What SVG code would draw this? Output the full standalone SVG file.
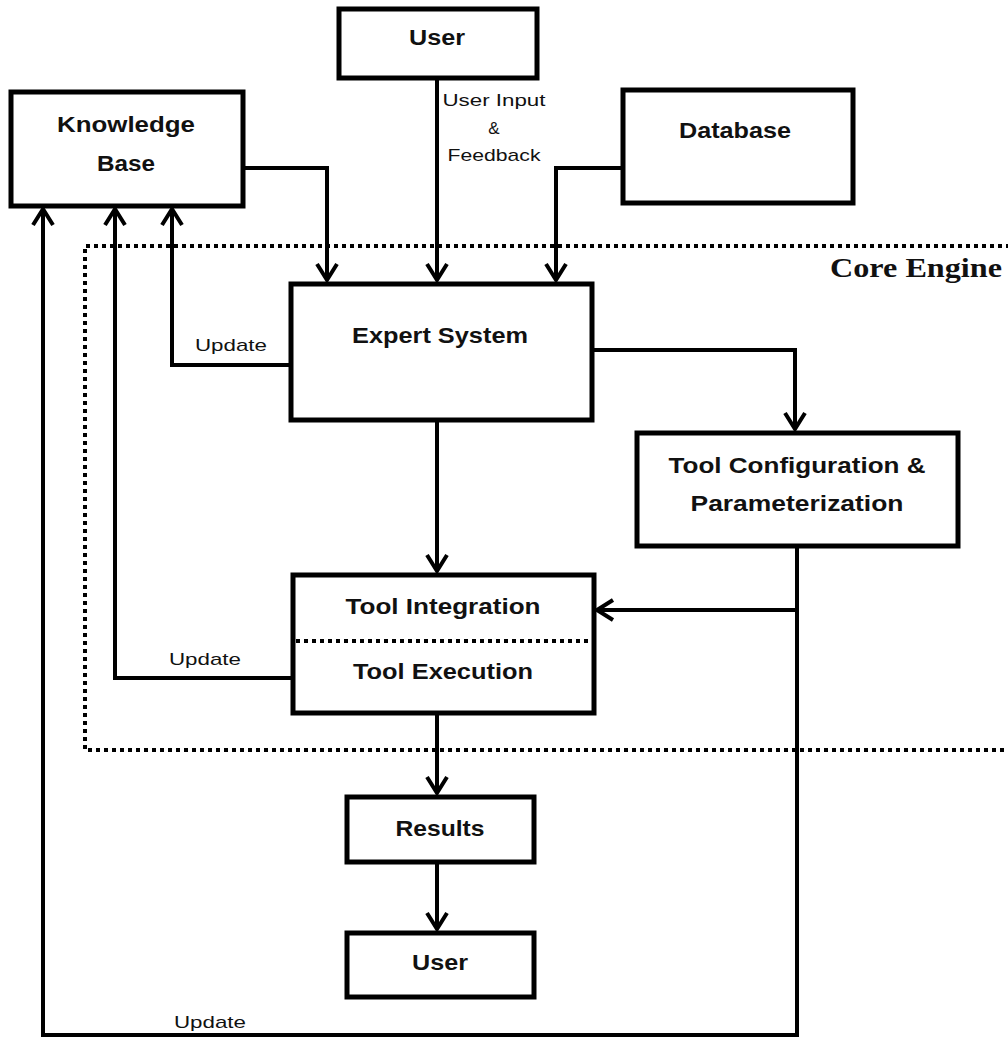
<svg xmlns="http://www.w3.org/2000/svg" width="1008" height="1040" viewBox="0 0 1008 1040">
<defs>
<style>
.box{fill:#fff;stroke:#000;stroke-width:5}
.t{font-family:"Liberation Sans",Arial,sans-serif;font-weight:bold;font-size:22px;fill:#111;text-anchor:middle}
.l{font-family:"Liberation Sans",Arial,sans-serif;font-size:17px;fill:#111;text-anchor:middle}
.c{fill:none;stroke:#000;stroke-width:4}
.dot{fill:none;stroke:#000;stroke-width:4;stroke-dasharray:4 4}
</style>
<marker id="arr" viewBox="-20 -13 24 26" refX="0" refY="0" markerWidth="24" markerHeight="26" markerUnits="userSpaceOnUse" orient="auto">
<path d="M-16,-10 L0,0 L-16,10" fill="none" stroke="#000" stroke-width="4"/>
</marker>
</defs>
<rect width="1008" height="1040" fill="#fff"/>

<g id="core-engine">
<path class="dot" d="M1010,246 H85 V750 H1010"/>
<text x="916" y="277" font-family="'Liberation Serif',serif" font-weight="bold" font-size="27" fill="#111" text-anchor="middle" textLength="172" lengthAdjust="spacingAndGlyphs">Core Engine</text>
</g>

<g id="connectors">
<path class="c" d="M243,168 H327 V280" marker-end="url(#arr)"/>
<path class="c" d="M437,78 V280" marker-end="url(#arr)"/>
<path class="c" d="M622,168 H556 V280" marker-end="url(#arr)"/>
<path class="c" d="M290,365 H172 V209" marker-end="url(#arr)"/>
<path class="c" d="M592,350 H795 V429" marker-end="url(#arr)"/>
<path class="c" d="M437,420 V571" marker-end="url(#arr)"/>
<path class="c" d="M797,546 V1035 H43 V209" marker-end="url(#arr)"/>
<path class="c" d="M797,610 H597" marker-end="url(#arr)"/>
<path class="c" d="M292,678 H115 V209" marker-end="url(#arr)"/>
<path class="c" d="M437,713 V793" marker-end="url(#arr)"/>
<path class="c" d="M437,862 V929" marker-end="url(#arr)"/>
<text class="l" x="494" y="106" textLength="103" lengthAdjust="spacingAndGlyphs">User Input</text>
<text class="l" x="494" y="134">&amp;</text>
<text class="l" x="494" y="161" textLength="93" lengthAdjust="spacingAndGlyphs">Feedback</text>
<text class="l" x="231" y="351" textLength="72" lengthAdjust="spacingAndGlyphs">Update</text>
<text class="l" x="205" y="665" textLength="72" lengthAdjust="spacingAndGlyphs">Update</text>
<text class="l" x="210" y="1028" textLength="72" lengthAdjust="spacingAndGlyphs">Update</text>
</g>

<g id="user-top">
<rect class="box" x="339" y="9" width="198" height="69"/>
<text class="t" x="437" y="45" textLength="56" lengthAdjust="spacingAndGlyphs">User</text>
</g>

<g id="knowledge-base">
<rect class="box" x="11" y="92" width="232" height="114"/>
<text class="t" x="126" y="132" textLength="138" lengthAdjust="spacingAndGlyphs">Knowledge</text>
<text class="t" x="126" y="171" textLength="58" lengthAdjust="spacingAndGlyphs">Base</text>
</g>

<g id="database">
<rect class="box" x="623" y="90" width="230" height="113"/>
<text class="t" x="735" y="138" textLength="112" lengthAdjust="spacingAndGlyphs">Database</text>
</g>

<g id="expert-system">
<rect class="box" x="291" y="284" width="301" height="136"/>
<text class="t" x="440" y="343" textLength="176" lengthAdjust="spacingAndGlyphs">Expert System</text>
</g>

<g id="tool-config">
<rect class="box" x="637" y="433" width="321" height="113"/>
<text class="t" x="797" y="473" textLength="257" lengthAdjust="spacingAndGlyphs">Tool Configuration &amp;</text>
<text class="t" x="797" y="511" textLength="213" lengthAdjust="spacingAndGlyphs">Parameterization</text>
</g>

<g id="tool-integration">
<rect class="box" x="293" y="575" width="301" height="138"/>
<path class="dot" d="M296,641 H592"/>
<text class="t" x="443" y="614" textLength="195" lengthAdjust="spacingAndGlyphs">Tool Integration</text>
<text class="t" x="443" y="679" textLength="180" lengthAdjust="spacingAndGlyphs">Tool Execution</text>
</g>

<g id="results">
<rect class="box" x="347" y="797" width="187" height="65"/>
<text class="t" x="440" y="836" textLength="89" lengthAdjust="spacingAndGlyphs">Results</text>
</g>

<g id="user-bottom">
<rect class="box" x="347" y="933" width="187" height="64"/>
<text class="t" x="440" y="970" textLength="56" lengthAdjust="spacingAndGlyphs">User</text>
</g>
</svg>
